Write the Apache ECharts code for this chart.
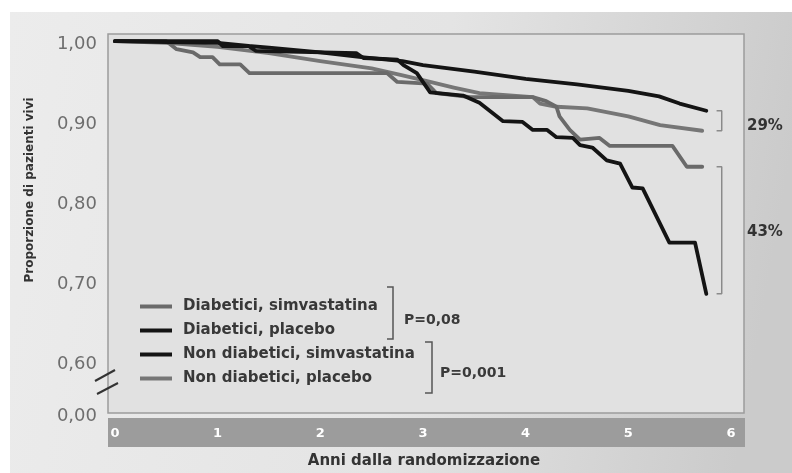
<!DOCTYPE html>
<html><head><meta charset="utf-8">
<script src="https://cdn.jsdelivr.net/npm/echarts@6/dist/echarts.min.js"></script>
<style>html,body{margin:0;padding:0;background:#fff}#c{width:792px;height:473px}</style>
</head><body><div id="c"></div>
<script>
// ---- data ----
const seriesNames = ['Diabetici, simvastatina', 'Diabetici, placebo', 'Non diabetici, simvastatina', 'Non diabetici, placebo'];

const diabSimvaYears = [0, 0.5, 0.6, 0.76, 0.83, 0.95, 1.02, 1.22, 1.31, 2.65, 2.75, 3.04, 3.13, 3.46, 4.07, 4.2, 4.3, 4.33, 4.43, 4.53, 4.72, 4.82, 5.43, 5.57, 5.72];
const diabSimvaSurv  = [1.0, 1.0, 0.990, 0.986, 0.980, 0.980, 0.971, 0.971, 0.960, 0.960, 0.949, 0.947, 0.935, 0.930, 0.930, 0.925, 0.918, 0.906, 0.889, 0.877, 0.879, 0.869, 0.869, 0.843, 0.843];

const diabPlaceboYears = [0, 1.0, 1.05, 1.3, 1.37, 2.35, 2.42, 2.75, 2.81, 2.94, 3.07, 3.39, 3.55, 3.78, 3.97, 4.07, 4.21, 4.30, 4.46, 4.53, 4.65, 4.79, 4.92, 5.04, 5.14, 5.40, 5.65, 5.76];
const diabPlaceboSurv  = [1.0, 1.0, 0.994, 0.994, 0.988, 0.985, 0.979, 0.977, 0.970, 0.960, 0.936, 0.932, 0.923, 0.900, 0.899, 0.889, 0.889, 0.880, 0.879, 0.870, 0.867, 0.851, 0.847, 0.817, 0.816, 0.748, 0.748, 0.684];

const nonDiabSimvaYears = [0, 0.5, 1.0, 1.3, 1.5, 2.0, 2.4, 2.8, 3.0, 3.5, 4.0, 4.5, 5.0, 5.3, 5.5, 5.76];
const nonDiabSimvaSurv  = [1.0, 0.999, 0.998, 0.994, 0.992, 0.986, 0.980, 0.975, 0.970, 0.962, 0.953, 0.946, 0.938, 0.931, 0.922, 0.913];

const nonDiabPlaceboYears = [0, 0.5, 1.0, 1.5, 2.0, 2.5, 2.78, 3.04, 3.3, 3.55, 4.07, 4.14, 4.3, 4.6, 5.0, 5.31, 5.72];
const nonDiabPlaceboSurv  = [1.0, 0.998, 0.993, 0.985, 0.975, 0.966, 0.958, 0.950, 0.942, 0.935, 0.930, 0.922, 0.918, 0.916, 0.906, 0.895, 0.888];

const xTickValues = [0, 1, 2, 3, 4, 5, 6];
const xTickLabels = ['0', '1', '2', '3', '4', '5', '6'];
const yTickValues = [0.535, 0.6, 0.7, 0.8, 0.9, 1.0];
const yTickLabels = ['0,00', '0,60', '0,70', '0,80', '0,90', '1,00'];
const pValueLabels = ['P=0,08', 'P=0,001'];
const diffLabels = ['29%', '43%'];
const xTitle = 'Anni dalla randomizzazione';
const yTitle = 'Proporzione di pazienti vivi';

// ---- build ----
const zip = (xs, ys) => xs.map((x, i) => [x, ys[i]]);
const last = a => a[a.length - 1];
const FONT = '"DejaVu Sans", Verdana, sans-serif';
const BLACK = '#141414', GRAY1 = '#6a6a6a', GRAY2 = '#767676';

function bracket(a, b) {
  return [[5.86, a], [5.91, a], [5.91, b], [5.86, b]];
}
function nearestLabel(v) {
  let k = 0, d = 1e9;
  yTickValues.forEach((t, i) => { if (Math.abs(t - v) < d) { d = Math.abs(t - v); k = i; } });
  return yTickLabels[k];
}

const chart = echarts.init(document.getElementById('c'), null, {renderer: 'canvas'});
const lineSeries = (name, data, color, z) => ({
  name, type: 'line', data, showSymbol: false, symbol: 'none', z,
  lineStyle: {color, width: 3.8, join: 'round', cap: 'round'},
  itemStyle: {color}, emphasis: {disabled: true}, animation: false
});

chart.setOption({
  animation: false,
  backgroundColor: '#ffffff',
  grid: {left: 108, top: 34, right: 48, bottom: 60, show: true,
         backgroundColor: '#e1e1e1', borderColor: '#9c9c9c', borderWidth: 1.5},
  xAxis: {type: 'value', min: -0.068, max: 6.127,
    axisLine: {show: false}, axisTick: {show: false}, splitLine: {show: false},
    axisLabel: {customValues: xTickValues, formatter: v => xTickLabels[xTickValues.indexOf(Math.round(v))] || '',
      color: '#ffffff', fontWeight: 'bold', fontSize: 13, fontFamily: FONT, margin: 14}},
  yAxis: {type: 'value', min: 0.535, max: 1.009,
    axisLine: {show: false}, axisTick: {show: false}, splitLine: {show: false},
    axisLabel: {customValues: yTickValues,
      formatter: v => '{a|' + nearestLabel(v) + '}',
      margin: 11,
      rich: {a: {color: '#6e6e6e', fontSize: 18, fontFamily: FONT, padding: [6, 0, 0, 0]}}}},
  legend: {data: seriesNames, orient: 'vertical', left: 135, top: 293, icon: 'rect',
    itemWidth: 32, itemHeight: 4, itemGap: 7, selectedMode: false,
    textStyle: {fontFamily: FONT, fontWeight: 'bold', fontSize: 15, color: '#383838', lineHeight: 17, padding: [0, 0, 0, 6]}},
  series: [
    lineSeries(seriesNames[3], zip(nonDiabPlaceboYears, nonDiabPlaceboSurv), GRAY2, 2),
    lineSeries(seriesNames[0], zip(diabSimvaYears, diabSimvaSurv), GRAY1, 3),
    lineSeries(seriesNames[2], zip(nonDiabSimvaYears, nonDiabSimvaSurv), BLACK, 4),
    lineSeries(seriesNames[1], zip(diabPlaceboYears, diabPlaceboSurv), BLACK, 5),
    {type: 'line', name: 'b1', data: bracket(last(nonDiabSimvaSurv), last(nonDiabPlaceboSurv)), showSymbol: false, symbol: 'none', silent: true,
      lineStyle: {color: '#8a8a8a', width: 1.5}},
    {type: 'line', name: 'b2', data: bracket(last(diabSimvaSurv), last(diabPlaceboSurv)), showSymbol: false, symbol: 'none', silent: true,
      lineStyle: {color: '#8a8a8a', width: 1.5}}
  ],
  graphic: [
    {type: 'rect', z: -100, shape: {x: 10, y: 12, width: 782, height: 461},
     style: {fill: new echarts.graphic.LinearGradient(0, 0, 1, 0.3, [
       {offset: 0, color: '#ececec'}, {offset: 0.55, color: '#e4e4e4'}, {offset: 1, color: '#cbcbcb'}])}},
    {type: 'rect', z: -50, shape: {x: 108, y: 418, width: 637, height: 29}, style: {fill: '#9c9c9c'}},
    {type: 'text', x: 424, y: 461, style: {text: xTitle, font: 'bold 15px ' + FONT, fill: '#333', textAlign: 'center', textVerticalAlign: 'middle'}},
    {type: 'text', x: 30, y: 190, rotation: Math.PI / 2, style: {text: yTitle, font: 'bold 12px ' + FONT, fill: '#333', textAlign: 'center', textVerticalAlign: 'middle'}},
    {type: 'line', shape: {x1: 95, y1: 381, x2: 115, y2: 370}, style: {stroke: '#333', lineWidth: 2}},
    {type: 'line', shape: {x1: 97, y1: 394, x2: 118, y2: 383}, style: {stroke: '#333', lineWidth: 2}},
    {type: 'polyline', shape: {points: [[387, 287], [393, 287], [393, 339], [387, 339]]}, style: {stroke: '#555', lineWidth: 1.5, fill: null}},
    {type: 'polyline', shape: {points: [[425, 342], [432, 342], [432, 393], [425, 393]]}, style: {stroke: '#555', lineWidth: 1.5, fill: null}},
    {type: 'text', x: 404, y: 320, style: {text: pValueLabels[0], font: 'bold 14px ' + FONT, fill: '#3a3a3a', textVerticalAlign: 'middle'}},
    {type: 'text', x: 440, y: 373, style: {text: pValueLabels[1], font: 'bold 14px ' + FONT, fill: '#3a3a3a', textVerticalAlign: 'middle'}},
    {type: 'text', x: 747, y: 126, style: {text: diffLabels[0], font: 'bold 15px ' + FONT, fill: '#333', textVerticalAlign: 'middle'}},
    {type: 'text', x: 747, y: 232, style: {text: diffLabels[1], font: 'bold 15px ' + FONT, fill: '#333', textVerticalAlign: 'middle'}}
  ]
});
</script></body></html>
